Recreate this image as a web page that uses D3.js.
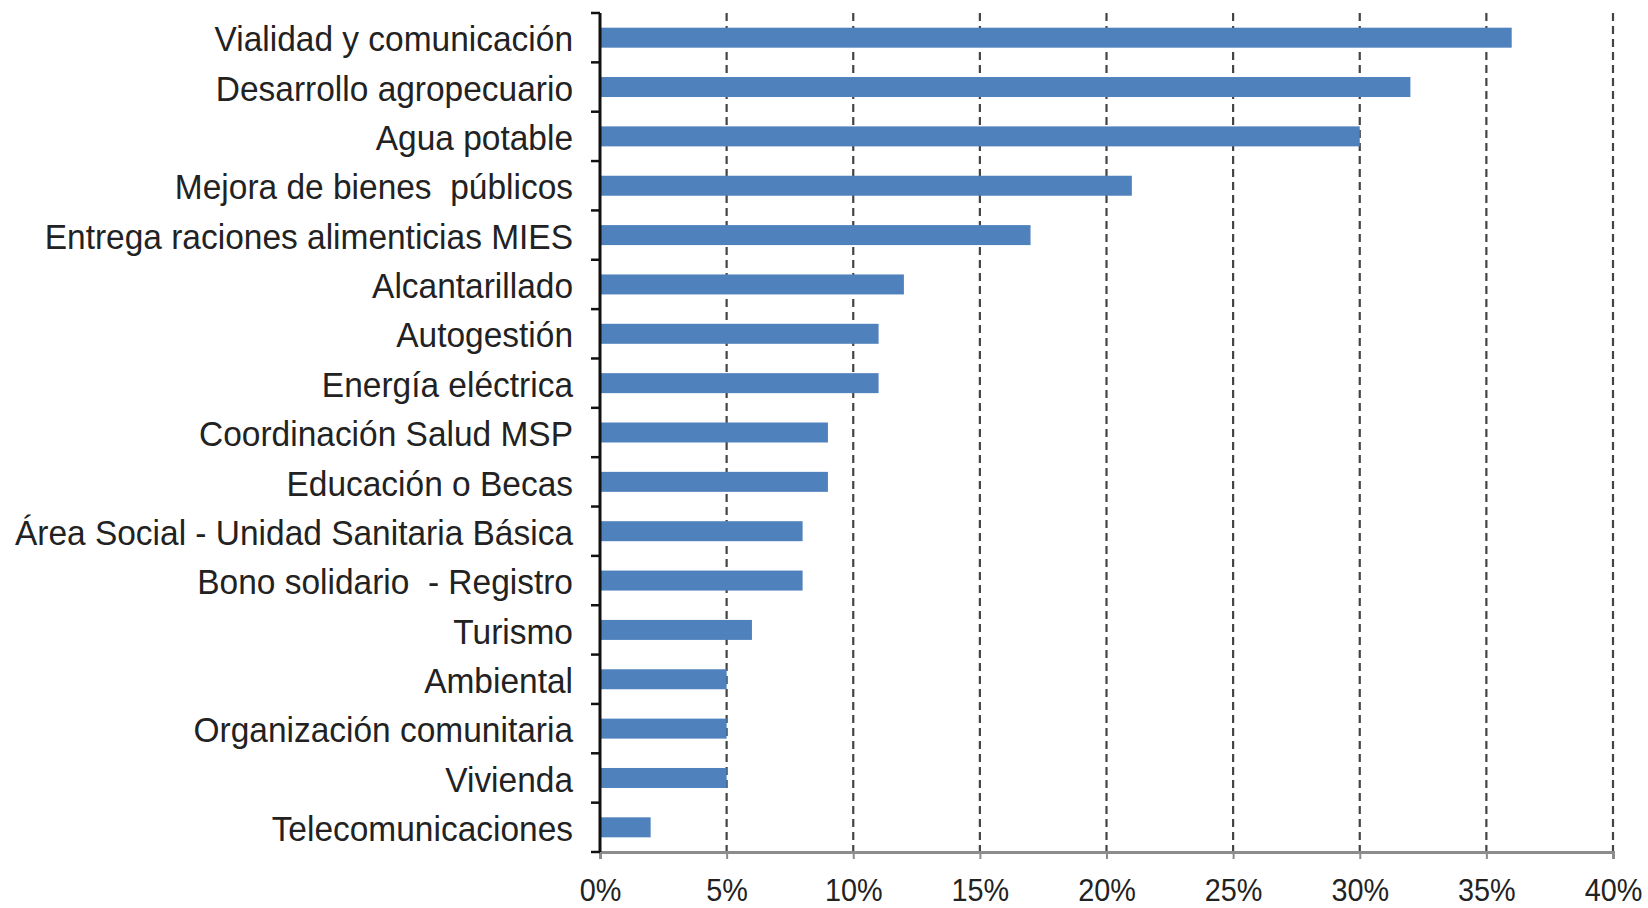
<!DOCTYPE html>
<html><head><meta charset="utf-8">
<script src="https://cdn.jsdelivr.net/npm/d3@7"></script>
<style>body{margin:0;background:#fff}svg{display:block}</style>
</head><body>
<svg id="c" width="1648" height="908"></svg>
<script>
const categories = ["Vialidad y comunicación","Desarrollo agropecuario","Agua potable","Mejora de bienes  públicos","Entrega raciones alimenticias MIES","Alcantarillado","Autogestión","Energía eléctrica","Coordinación Salud MSP","Educación o Becas","Área Social - Unidad Sanitaria Básica","Bono solidario  - Registro","Turismo","Ambiental","Organización comunitaria","Vivienda","Telecomunicaciones"];
const values = [36,32,30,21,17,12,11,11,9,9,8,8,6,5,5,5,2];
const tickValues = [0,5,10,15,20,25,30,35,40];

(function(){
const svg = d3.select("#c");
const mL = 600, mR = 1613, mT = 13, mB = 852;
const FONT = "'Liberation Sans',Arial,sans-serif";
const x = d3.scaleLinear().domain([0,40]).range([mL,mR]);
const y = d3.scaleBand().domain(categories).range([mT,mB]).paddingInner(0.595).paddingOuter(0.2975);

svg.append("g").selectAll("line").data(tickValues.filter(d=>d>0)).join("line")
  .attr("x1",d=>x(d)).attr("x2",d=>x(d)).attr("y1",mT).attr("y2",mB)
  .attr("stroke","#444").attr("stroke-width",2.2).attr("stroke-dasharray","8,5");

svg.append("g").selectAll("rect").data(values).join("rect")
  .attr("x",x(0)).attr("y",(d,i)=>y(categories[i]))
  .attr("width",d=>x(d)-x(0)).attr("height",y.bandwidth())
  .attr("fill","#4f81bd");

const xa = svg.append("g").attr("transform",`translate(0,${mB})`)
  .call(d3.axisBottom(x).tickValues(tickValues).tickFormat(d=>d+"%").tickSize(7));
xa.select(".domain").attr("stroke","#8c8c8c").attr("stroke-width",3);
xa.selectAll(".tick line").attr("stroke","#8c8c8c").attr("stroke-width",2);
xa.selectAll(".tick text").attr("y",0).attr("dy",0)
  .attr("transform","translate(0,49) scale(0.9,1)")
  .attr("font-family",FONT).attr("font-size",32).attr("fill","#222");

const n = categories.length;
const ya = svg.append("g").attr("transform",`translate(${mL},0)`);
ya.append("line").attr("x1",0).attr("x2",0).attr("y1",mT).attr("y2",mB).attr("stroke","#111").attr("stroke-width",3);
ya.selectAll("line.t").data(d3.range(n+1)).join("line").attr("class","t")
  .attr("x1",-9).attr("x2",0).attr("y1",i=>mT+i*(mB-mT)/n).attr("y2",i=>mT+i*(mB-mT)/n)
  .attr("stroke","#111").attr("stroke-width",2.5);
ya.selectAll("text").data(categories).join("text")
  .attr("transform",d=>`translate(-27,${y(d)+y.bandwidth()/2}) scale(0.93,1)`)
  .attr("dy","0.38em")
  .attr("text-anchor","end").attr("font-family",FONT).attr("font-size",36).attr("fill","#222")
  .style("white-space","pre").text(d=>d);
})();
</script>
</body></html>
